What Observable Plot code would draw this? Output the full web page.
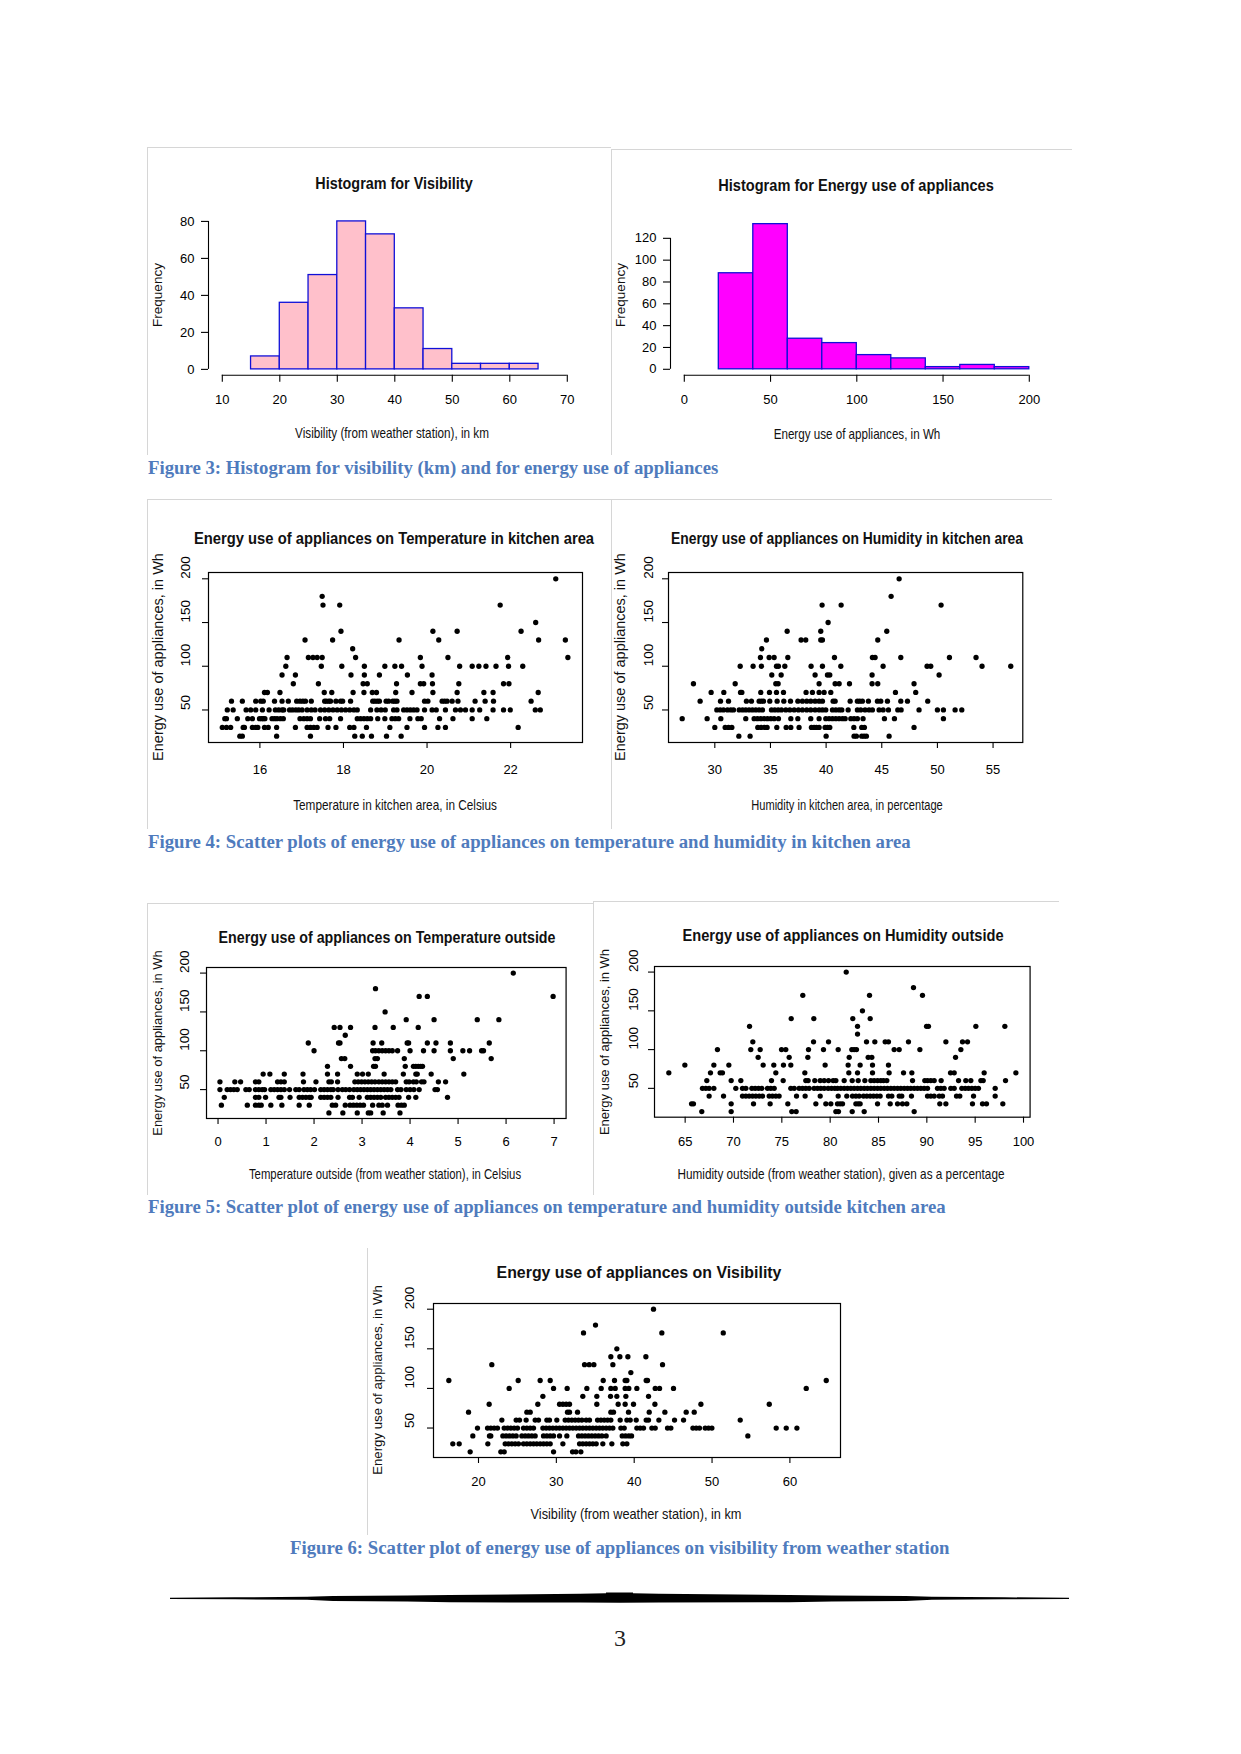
<!DOCTYPE html>
<html><head><meta charset="utf-8">
<script src="https://cdn.jsdelivr.net/npm/d3@7"></script>
<script src="https://cdn.jsdelivr.net/npm/@observablehq/plot@0.6"></script>
<style>
body{margin:0;background:#fff}
#page{position:relative;width:1241px;height:1754px;overflow:hidden;background:#fff;font-family:"Liberation Sans",Arial,sans-serif;color:#000}
.lbl{position:absolute;white-space:nowrap;line-height:1;color:#111}
.cap{position:absolute;white-space:nowrap;font-family:"Liberation Serif","Times New Roman",serif;font-weight:bold;color:#4f7bbd;line-height:1}
.bd{position:absolute;background:#d6d6d6}
</style></head>
<body><div id="page"></div>
<script>
// ---------- data ----------
const visEdges = [15,20,25,30,35,40,45,50,55,60,65];
const visCounts = [7,36,51,80,73,33,11,3,3,3];
const energyEdges = [20,40,60,80,100,120,140,160,180,200];
const energyCounts = [88,133,28,24,13,10,2,4,2];

const energyTicks = [50,100,150,200];

// rows: [energy use (Wh), [x values]]
const kitchenTempRows = [
 [200,[23.08]],
 [180,[17.49]],
 [170,[17.51,17.91,21.75]],
 [150,[22.60]],
 [140,[17.94,20.14,20.72,22.25]],
 [130,[17.08,17.74,19.33,20.28,22.67,23.31]],
 [120,[18.22]],
 [110,[16.65,17.16,17.27,17.37,17.49,18.29,19.84,20.50,21.93,23.37]],
 [100,[16.62,17.47,17.96,18.50,18.99,19.23,19.39,19.88,20.78,21.08,21.24,21.41,21.65,21.95,22.29]],
 [90,[16.53,16.85,18.18,18.50,18.86,19.53,20.12]],
 [80,[16.80,17.40,18.47,18.57,19.27,19.84,19.92,20.13,20.76,21.83,21.96]],
 [70,[16.11,16.18,16.48,17.54,17.72,18.23,18.49,18.69,18.79,19.25,19.64,20.14,20.72,21.36,21.58,22.66]],
 [60,[15.32,15.58,15.90,16.02,16.08,16.35,16.53,16.68,16.88,16.96,17.03,17.09,17.23,17.55,17.59,17.65,17.69,17.82,17.93,17.98,18.17,18.70,18.75,18.81,18.86,19.02,19.08,19.18,19.23,19.28,19.94,20.02,20.36,20.42,20.48,20.60,20.74,21.15,21.39,21.59,22.49]],
 [50,[15.22,15.36,15.67,15.78,15.90,16.06,16.22,16.37,16.45,16.53,16.57,16.71,16.78,16.86,16.93,17.01,17.13,17.23,17.32,17.45,17.55,17.65,17.75,17.85,17.95,18.05,18.15,18.25,18.33,18.65,18.80,18.90,19.00,19.20,19.28,19.44,19.52,19.60,19.68,19.76,19.94,20.12,20.22,20.44,20.68,20.80,20.92,21.08,21.26,21.58,21.83,21.99,22.59,22.71]],
 [40,[15.16,15.20,15.46,15.71,15.82,15.99,16.04,16.08,16.12,16.29,16.35,16.41,16.49,16.56,16.96,17.05,17.13,17.21,17.43,17.57,17.67,17.93,18.33,18.41,18.49,18.57,18.65,18.82,18.99,19.16,19.24,19.32,19.59,19.78,19.86,20.30,20.62,21.08,21.43]],
 [30,[15.10,15.20,15.30,15.60,15.63,15.82,15.90,15.95,16.11,16.20,16.40,16.85,17.13,17.21,17.29,17.37,17.63,17.82,18.15,18.25,18.55,19.11,19.52,19.94,20.26,20.44,22.18]],
 [20,[15.52,15.58,16.40,17.21,18.27,18.45,18.67,19.03,19.38]]
];

const kitchenHumRows = [
 [200,[46.56]],
 [180,[45.84]],
 [170,[39.64,41.35,50.33]],
 [150,[40.18]],
 [140,[36.50,39.52,45.45]],
 [130,[34.64,37.75,38.17,39.52,39.67,44.64]],
 [120,[34.22]],
 [110,[34.10,34.88,35.33,36.56,40.75,44.16,44.40,46.71,51.08,53.47]],
 [100,[32.28,33.44,34.19,35.54,35.72,36.29,38.65,39.67,41.32,45.12,49.07,49.40,54.01,56.59]],
 [90,[35.12,35.96,39.01,40.12,40.33,44.13,50.15]],
 [80,[28.08,31.83,35.48,35.69,39.37,40.81,41.17,42.10,44.13,44.64,47.90]],
 [70,[29.67,30.81,32.31,32.43,34.13,34.91,35.54,36.17,38.20,38.77,39.37,39.82,40.42,46.23,48.05]],
 [60,[28.68,30.51,31.23,32.84,33.29,33.98,34.19,34.37,34.94,35.60,36.20,36.80,37.46,37.87,38.26,38.62,39.01,39.37,39.67,40.63,40.81,42.16,42.81,43.02,43.26,43.80,44.61,44.91,45.51,46.71,47.31,49.13]],
 [50,[30.18,30.48,30.78,31.14,31.44,31.68,32.19,32.49,32.78,33.08,33.38,33.68,33.98,34.28,35.09,35.39,35.69,35.99,36.38,36.74,37.13,37.51,37.87,38.26,38.62,39.01,39.37,39.67,39.97,40.57,40.87,41.17,41.41,41.98,42.81,43.11,43.50,43.86,44.16,44.76,45.12,45.60,46.44,46.74,48.35,50.00,50.54,51.59,52.19]],
 [40,[27.07,29.31,30.54,32.78,33.53,33.83,34.13,34.43,34.73,35.03,35.33,35.72,36.83,37.46,38.62,39.37,39.97,40.27,40.57,40.87,41.17,41.47,41.71,42.22,42.51,42.81,43.32,45.24,46.14,50.54]],
 [30,[30.00,30.93,31.23,31.53,33.86,34.16,34.46,34.70,35.57,36.41,36.83,37.57,38.68,38.92,39.13,39.37,39.91,40.12,40.33,42.49,43.20,43.44,47.90]],
 [20,[32.16,33.17,40.00,42.51,42.72,43.20,43.41,43.62,45.66]]
];

const outTempRows = [
 [200,[6.15]],
 [180,[3.28]],
 [170,[4.19,4.36,6.98]],
 [150,[3.48]],
 [140,[3.92,4.50,5.40,5.85]],
 [130,[2.42,2.54,2.76,3.27,3.65,4.17]],
 [120,[2.65]],
 [110,[1.88,2.51,2.54,3.23,3.41,3.94,3.97,4.36,4.54,4.84,5.65]],
 [100,[2.00,3.22,3.28,3.35,3.42,3.49,3.56,3.63,3.74,4.00,4.28,4.50,4.84,5.10,5.24,5.49,5.53]],
 [90,[2.57,2.64,3.27,3.32,3.88,4.90,5.69]],
 [80,[2.28,2.76,3.24,3.28,3.90,4.07,4.12,4.17,4.22,4.26]],
 [70,[0.94,1.08,1.38,1.77,2.28,2.49,2.90,3.01,3.13,3.46,3.86,4.12,4.15,4.44,5.12]],
 [60,[0.04,0.35,0.47,0.78,0.85,1.24,1.31,1.38,1.78,2.04,2.31,2.36,2.49,2.85,2.92,2.99,3.06,3.13,3.20,3.27,3.35,3.42,3.49,3.56,3.63,3.70,3.92,3.98,4.07,4.13,4.24,4.29,4.59,4.74]],
 [50,[0.04,0.19,0.26,0.33,0.40,0.58,0.65,0.78,0.85,0.92,0.97,1.10,1.17,1.24,1.31,1.38,1.49,1.62,1.69,1.79,1.86,1.93,2.01,2.14,2.21,2.28,2.35,2.40,2.50,2.59,2.66,2.74,2.83,2.90,2.97,3.04,3.11,3.18,3.25,3.32,3.39,3.46,3.53,3.60,3.74,3.81,3.92,4.00,4.08,4.19,4.52,4.57]],
 [40,[0.13,0.78,0.85,0.99,1.27,1.31,1.50,1.69,1.76,1.83,1.90,1.94,2.14,2.21,2.28,2.35,2.50,2.74,2.80,2.94,3.11,3.18,3.25,3.32,3.39,3.49,3.56,3.63,3.70,3.77,3.97,4.12,4.78]],
 [30,[0.07,0.61,0.78,0.85,0.90,1.10,1.33,1.69,1.90,2.38,2.45,2.65,2.75,2.82,2.89,2.96,3.03,3.22,3.35,3.42,3.53,3.75,3.82,3.88]],
 [20,[2.31,2.60,2.90,3.13,3.18,3.44,3.79]]
];

const outHumRows = [
 [200,[81.66]],
 [180,[88.62]],
 [170,[77.17,84.07,89.55]],
 [150,[83.34]],
 [140,[75.97,78.31,82.34,84.14]],
 [130,[71.66,82.83,89.97,90.17,95.07,98.07]],
 [120,[82.83]],
 [110,[72.00,78.28,79.83,83.76,84.62,85.69,86.03,88.10,91.97,93.69,94.21]],
 [100,[68.34,71.79,72.76,74.97,75.41,77.76,79.31,80.83,82.24,82.48,82.72,86.62,87.14,89.28,93.52]],
 [90,[72.55,75.76,77.69,81.97,83.93,84.31,92.97]],
 [80,[64.97,67.97,69.52,73.07,74.17,75.17,75.93,79.48,81.86,83.10,84.38,86.03]],
 [70,[63.31,67.62,68.62,68.86,74.38,77.38,81.93,82.83,84.38,86.10,87.59,88.45,92.45,92.83,95.93,99.21]],
 [60,[67.24,69.76,70.76,73.93,75.14,77.48,77.72,78.41,78.97,79.38,79.83,80.31,80.59,81.45,82.28,82.90,83.59,84.21,84.55,84.90,85.24,85.52,85.86,88.52,89.79,90.07,90.41,90.76,91.48,93.28,94.03,94.55,95.59,95.83,98.14]],
 [50,[66.79,67.14,67.48,67.97,70.24,70.93,71.28,71.90,72.24,72.59,72.93,73.52,73.86,74.21,75.93,76.28,76.79,77.14,77.48,77.83,78.34,78.69,79.03,79.38,79.79,80.14,80.48,80.76,81.10,81.45,81.79,82.14,82.48,82.83,83.17,83.52,83.86,84.21,84.55,84.90,85.24,85.59,85.93,86.28,86.62,86.97,87.31,87.66,88.00,88.34,88.69,89.03,89.38,89.72,90.07,91.10,91.45,91.79,92.48,92.83,93.62,93.97,94.31,94.66,95.00,95.34,97.07]],
 [40,[67.48,68.97,70.93,71.28,71.62,71.97,72.31,72.66,73.00,73.69,74.03,74.38,74.72,76.52,77.41,78.97,80.83,81.72,82.31,82.66,83.00,83.45,83.79,84.14,84.48,84.83,85.17,86.03,86.38,87.14,87.41,88.41,90.07,90.41,90.76,91.28,91.62,93.07,93.41,94.83,97.07]],
 [30,[65.66,65.86,69.76,72.07,73.79,75.62,78.52,79.55,80.07,80.76,81.03,81.28,82.66,82.90,83.10,84.90,86.21,86.97,87.48,87.93,91.34,91.97,94.72,95.76,96.17,97.86]],
 [20,[66.72,69.76,76.03,76.48,80.59,80.86,82.28,83.52,88.69]]
];

const visRows = [
 [200,[42.48]],
 [180,[35.03]],
 [170,[33.49,43.55,51.44]],
 [150,[37.77]],
 [140,[37.00,38.16,39.19,41.50]],
 [130,[21.71,33.62,34.22,34.82,37.26,43.64]],
 [120,[39.57]],
 [110,[16.19,25.10,27.92,29.21,36.02,37.47,38.84,39.06,41.54,41.71,64.67]],
 [100,[23.94,29.64,31.39,33.92,35.76,37.00,37.56,38.84,39.31,40.34,42.70,43.26,45.05,62.10]],
 [90,[28.27,33.40,35.20,36.96,37.77,38.93,41.84]],
 [80,[21.37,27.62,30.41,30.84,31.26,31.69,35.20,37.94,38.84,39.91,42.66,48.57,57.35]],
 [70,[18.72,26.21,26.64,31.43,31.69,32.72,37.00,37.34,39.27,41.93,43.94,46.68,47.71]],
 [60,[23.00,24.84,25.27,26.12,27.28,27.71,28.78,29.12,30.06,31.13,31.56,31.99,32.42,32.85,33.28,33.83,34.26,35.29,35.72,36.15,36.58,37.00,38.20,39.06,39.49,40.26,41.54,41.84,43.17,45.18,46.34,53.62]],
 [50,[19.87,21.16,21.58,22.01,22.44,23.30,23.73,24.15,24.58,25.01,25.78,26.21,26.64,27.07,28.27,28.69,29.12,29.55,29.98,30.41,30.84,31.26,31.69,32.12,32.55,32.98,33.40,33.83,34.26,34.69,35.12,35.55,35.97,36.40,36.83,37.26,38.29,38.72,40.34,40.77,41.20,42.27,42.70,44.28,44.71,47.54,47.97,48.39,49.12,49.55,49.98,58.24,59.53,60.90]],
 [40,[19.27,21.41,21.58,23.13,23.55,23.98,24.41,24.84,25.57,26.00,26.42,26.85,27.28,28.35,28.78,29.21,29.64,30.41,31.35,32.85,33.28,33.70,34.13,34.56,34.99,35.42,35.85,36.40,38.46,38.89,39.31,39.66,54.60]],
 [30,[16.70,17.52,21.20,23.43,23.85,24.28,24.71,25.14,25.78,26.21,26.64,27.07,27.49,27.92,28.35,28.78,29.21,30.84,32.98,33.40,33.83,34.26,34.69,35.12,35.97,37.13,38.54,39.06]],
 [20,[18.93,22.87,23.30,29.64,32.08,32.51,33.15]]
];

// ---------- helpers ----------
const page = document.getElementById("page");
const plotStyle = {fontFamily: '"Liberation Sans", Arial, sans-serif', color: "black", background: "none", overflow: "visible"};

function place(svg, left, top) {
  svg.style.position = "absolute";
  svg.style.left = left + "px";
  svg.style.top = top + "px";
  page.appendChild(svg);
}

function hist(edges, counts, f) {
  const bins = counts.map((c, i) => ({x1: edges[i], x2: edges[i + 1], c}));
  const mL = 60, mR = 12, mT = 12, mB = 45;
  const svg = Plot.plot({
    width: f.R - f.L + mL + mR, height: f.B - f.T + mT + mB,
    marginLeft: mL, marginRight: mR, marginTop: mT, marginBottom: mB,
    x: {domain: f.xDomain}, y: {domain: f.yDomain},
    style: plotStyle,
    marks: [
      Plot.rect(bins, {x1: "x1", x2: "x2", y1: 0, y2: "c", fill: f.fill, stroke: "#1010d8", strokeWidth: 1.3}),
      Plot.ruleY([f.yDomain[0]], {x1: f.xTicks[0], x2: f.xTicks[f.xTicks.length - 1], stroke: "black", strokeWidth: 1.1}),
      Plot.axisX(f.xTicks, {tickSize: 7, tickPadding: 12.4, fontSize: 13, label: null, strokeWidth: 1.1}),
      Plot.ruleX([f.xDomain[0]], {y1: f.yTicks[0], y2: f.yTicks[f.yTicks.length - 1], stroke: "black", strokeWidth: 1.1}),
      Plot.axisY(f.yTicks, {tickSize: 7, tickPadding: 7, fontSize: 13, label: null, strokeWidth: 1.1})
    ]
  });
  place(svg, f.L - mL, f.T - mT);
}

function scatter(rows, f) {
  const data = rows.flatMap(([e, xs]) => xs.map(x => ({x, e})));
  const mL = 60, mR = 12, mT = 12, mB = 45;
  const svg = Plot.plot({
    width: f.R - f.L + mL + mR, height: f.B - f.T + mT + mB,
    marginLeft: mL, marginRight: mR, marginTop: mT, marginBottom: mB,
    x: {domain: f.xDomain}, y: {domain: [12.8, 207.2]},
    style: plotStyle,
    marks: [
      Plot.frame({stroke: "black", strokeWidth: 1.2}),
      Plot.dot(data, {x: "x", y: "e", r: 2.65, fill: "black"}),
      Plot.axisX(f.xTicks, {tickSize: 6, tickPadding: f.xPad, fontSize: 13, label: null, strokeWidth: 1.1}),
      Plot.axisY(energyTicks, {tickSize: 6, tickFormat: () => "", label: null, strokeWidth: 1.1}),
      Plot.text(energyTicks, {y: d => d, text: d => String(d), frameAnchor: "left", dx: -f.yOff, rotate: -90, fontSize: 13.5})
    ]
  });
  place(svg, f.L - mL, f.T - mT);
}

function label(text, cx, cy, target, o = {}) {
  const el = document.createElement("span");
  el.className = "lbl";
  el.textContent = text;
  el.style.fontSize = (o.size || 14.5) + "px";
  if (o.bold) el.style.fontWeight = "bold";
  el.style.left = cx + "px";
  el.style.top = cy + "px";
  page.appendChild(el);
  const s = target / el.offsetWidth;
  el.style.transform = `translate(-50%,-50%)${o.rotate ? " rotate(-90deg)" : ""} scaleX(${s})`;
}

function caption(text, x, cy, target) {
  const el = document.createElement("span");
  el.className = "cap";
  el.textContent = text;
  el.style.fontSize = "18px";
  el.style.left = x + "px";
  el.style.top = cy + "px";
  page.appendChild(el);
  el.style.fontSize = (18 * target / el.offsetWidth) + "px";
  el.style.transform = "translateY(-50%)";
}

function border(x, y, w, h) {
  const el = document.createElement("div");
  el.className = "bd";
  Object.assign(el.style, {left: x + "px", top: y + "px", width: w + "px", height: h + "px"});
  page.appendChild(el);
}

// ---------- panel borders ----------
border(147, 147, 464, 1); border(147, 147, 1, 308);
border(611, 149, 461, 1); border(611, 149, 1, 306);
border(147, 499, 905, 1); border(147, 499, 1, 330); border(611, 499, 1, 330);
border(147, 903, 446, 1); border(147, 903, 1, 292);
border(593, 901, 466, 1); border(593, 901, 1, 294);
border(367, 1248, 1, 287);

// ---------- Figure 3 ----------
hist(visEdges, visCounts, {L: 208, R: 580.6, T: 215.2, B: 375, xDomain: [7.6, 72.4], yDomain: [-3.2, 83.2],
  xTicks: [10,20,30,40,50,60,70], yTicks: [0,20,40,60,80], fill: "pink"});
hist(energyEdges, energyCounts, {L: 670.2, R: 1042.8, T: 216.2, B: 375, xDomain: [-8, 208], yDomain: [-5.5, 140],
  xTicks: [0,50,100,150,200], yTicks: [0,20,40,60,80,100,120], fill: "magenta"});

label("Histogram for Visibility", 393.7, 183.3, 157, {bold: true, size: 16.5});
label("Histogram for Energy use of appliances", 856.2, 185, 275.7, {bold: true, size: 16.5});
label("Visibility (from weather station), in km", 392.3, 433, 194);
label("Energy use of appliances, in Wh", 856.7, 433.5, 166.7);
label("Frequency", 158.3, 295, 64, {rotate: true, size: 13.5});
label("Frequency", 621, 295, 64, {rotate: true, size: 13.5});
caption("Figure 3: Histogram for visibility (km) and for energy use of appliances", 148, 468, 570);

// ---------- Figure 4 ----------
scatter(kitchenTempRows, {L: 208, R: 582, T: 572, B: 742, xDomain: [14.77, 23.72], xTicks: [16,18,20,22], xPad: 16.7, yOff: 22.7});
scatter(kitchenHumRows, {L: 667.7, R: 1022, T: 572, B: 742, xDomain: [25.84, 57.67], xTicks: [30,35,40,45,50,55], xPad: 16.7, yOff: 20.2});
label("Energy use of appliances on Temperature in kitchen area", 394, 537.5, 400, {bold: true, size: 16.5});
label("Energy use of appliances on Humidity in kitchen area", 846.7, 537.5, 352, {bold: true, size: 16.5});
label("Temperature in kitchen area, in Celsius", 395.3, 805.3, 204);
label("Humidity in kitchen area, in percentage", 846.5, 805.3, 191.7);
label("Energy use of appliances, in Wh", 158.3, 657, 208, {rotate: true, size: 14});
label("Energy use of appliances, in Wh", 620, 657, 208, {rotate: true, size: 14});
caption("Figure 4: Scatter plots of energy use of appliances on temperature and humidity in kitchen area", 148, 841.5, 763);

// ---------- Figure 5 ----------
scatter(outTempRows, {L: 205.7, R: 565.3, T: 967.3, B: 1118.3, xDomain: [-0.24, 7.25], xTicks: [0,1,2,3,4,5,6,7], xPad: 11.8, yOff: 21.4});
scatter(outHumRows, {L: 653.7, R: 1029.3, T: 966.3, B: 1117, xDomain: [61.83, 100.68], xTicks: [65,70,75,80,85,90,95,100], xPad: 13.1, yOff: 21});
label("Energy use of appliances on Temperature outside", 386.7, 936.7, 336.7, {bold: true, size: 16.5});
label("Energy use of appliances on Humidity outside", 842.8, 935, 321, {bold: true, size: 16.5});
label("Temperature outside (from weather station), in Celsius", 385, 1173.5, 272);
label("Humidity outside (from weather station), given as a percentage", 840.8, 1174, 327);
label("Energy use of appliances, in Wh", 157.3, 1042.8, 185, {rotate: true, size: 13});
label("Energy use of appliances, in Wh", 604, 1042, 185.7, {rotate: true, size: 13});
caption("Figure 5: Scatter plot of energy use of appliances on temperature and humidity outside kitchen area", 148, 1207.4, 798);

// ---------- Figure 6 ----------
scatter(visRows, {L: 433.3, R: 840.3, T: 1303, B: 1457, xDomain: [14.22, 66.5], xTicks: [20,30,40,50,60], xPad: 13.1, yOff: 24});
label("Energy use of appliances on Visibility", 638.5, 1272, 285, {bold: true, size: 16.5});
label("Visibility (from weather station), in km", 636.2, 1513.8, 211);
label("Energy use of appliances, in Wh", 378.3, 1380, 190, {rotate: true, size: 13.5});
caption("Figure 6: Scatter plot of energy use of appliances on visibility from weather station", 290, 1547.6, 660);

// ---------- footer ----------
const ns = "http://www.w3.org/2000/svg";
const foot = document.createElementNS(ns, "svg");
foot.setAttribute("width", 1241); foot.setAttribute("height", 1754);
Object.assign(foot.style, {position: "absolute", left: "0px", top: "0px", pointerEvents: "none"});
const poly = document.createElementNS(ns, "polygon");
poly.setAttribute("points",
  "170,1597.7 235,1597.3 307,1596.8 333,1596 407,1595.5 450,1595 580,1593.8 606,1593.3 606,1592.5 633,1592.5 633,1593.3 " +
  "659,1593.8 789,1595 832,1595.5 906,1596 932,1596.8 1004,1597.3 1069,1597.7 " +
  "1069,1599 1004,1599.3 932,1599.8 906,1601 832,1601.5 789,1602.2 659,1602.6 620,1602.8 580,1602.6 450,1602.2 407,1601.5 333,1601 307,1599.8 235,1599.3 170,1599");
poly.setAttribute("fill", "#000");
foot.appendChild(poly);
page.appendChild(foot);
const pn = document.createElement("span");
pn.textContent = "3";
Object.assign(pn.style, {position: "absolute", left: "620px", top: "1638px", transform: "translate(-50%,-50%)", fontFamily: '"Liberation Serif", serif', fontSize: "24px", lineHeight: "1", color: "#222"});
page.appendChild(pn);
</script>
</body></html>
